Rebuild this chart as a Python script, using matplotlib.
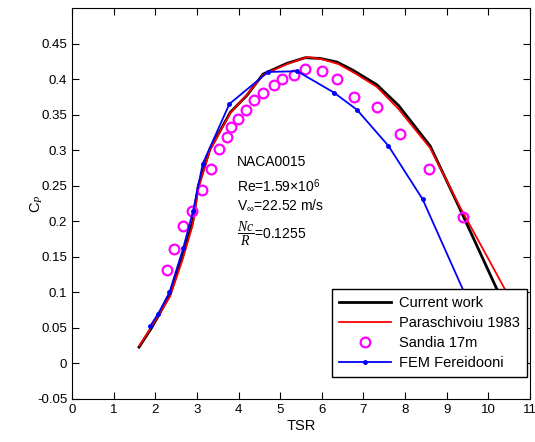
import numpy as np
import matplotlib.pyplot as plt
from matplotlib.ticker import FormatStrFormatter

plt.rcParams['font.family'] = ['Liberation Sans', 'DejaVu Sans']
plt.rcParams['mathtext.fontset'] = 'custom'
plt.rcParams['mathtext.rm'] = 'Liberation Sans'
plt.rcParams['mathtext.it'] = 'Liberation Serif:italic'

# Current work
cw_tsr = [1.61, 1.91, 2.35, 2.65, 2.9, 3.03, 3.31, 3.80, 4.2, 4.59, 5.16, 5.60, 5.96,
          6.36, 6.76, 7.32, 7.84, 8.60, 9.28, 10.2, 10.36]
cw_cp = [0.023, 0.05, 0.096, 0.15, 0.2, 0.249, 0.301, 0.353, 0.377, 0.407, 0.422, 0.430,
         0.429, 0.424, 0.412, 0.392, 0.363, 0.306, 0.222, 0.105, 0.084]

# Paraschivoiu 1983
pa_tsr = [1.62, 1.91, 2.35, 2.65, 2.9, 3.03, 3.31, 3.80, 4.2, 4.59, 5.16, 5.65, 6.0,
          6.4, 6.8, 7.32, 7.84, 8.60, 9.3, 10.0, 10.40]
pa_cp = [0.025, 0.052, 0.094, 0.145, 0.195, 0.245, 0.3, 0.352, 0.378, 0.406, 0.421, 0.431,
         0.428, 0.421, 0.408, 0.389, 0.358, 0.303, 0.222, 0.147, 0.104]

# Sandia 17m
sa_tsr = [2.27, 2.45, 2.67, 2.89, 3.11, 3.33, 3.54, 3.73, 3.83, 3.99, 4.18, 4.38, 4.58,
          4.84, 5.04, 5.34, 5.60, 6.0, 6.37, 6.77, 7.32, 7.88, 8.57, 9.38, 10.38]
sa_cp = [0.131, 0.161, 0.193, 0.215, 0.244, 0.274, 0.301, 0.319, 0.333, 0.344, 0.356,
         0.370, 0.380, 0.391, 0.400, 0.406, 0.414, 0.412, 0.400, 0.375, 0.360, 0.323,
         0.273, 0.206, 0.084]

# FEM Fereidooni
fe_tsr = [1.87, 2.07, 2.34, 2.67, 2.91, 3.14, 3.78, 4.71, 5.41, 6.29, 6.84, 7.60, 8.42, 9.8]
fe_cp = [0.052, 0.070, 0.100, 0.162, 0.215, 0.281, 0.365, 0.410, 0.411, 0.381, 0.357,
         0.306, 0.231, 0.05]

fig = plt.figure(figsize=(5.35, 4.42), dpi=100)
ax = fig.add_axes([0.1346, 0.0973, 0.8561, 0.8847])

ax.plot(cw_tsr, cw_cp, color='black', lw=2, label='Current work')
ax.plot(pa_tsr, pa_cp, color='red', lw=1.3, label='Paraschivoiu 1983')
ax.plot(sa_tsr, sa_cp, ls='none', marker='o', ms=7, mfc='none', mec='magenta', mew=1.6,
        label='Sandia 17m')
ax.plot(fe_tsr, fe_cp, color='blue', lw=1.3, marker='.', ms=5, label='FEM Fereidooni')

ax.set_xlim(0, 11)
ax.set_ylim(-0.05, 0.5)
ax.set_xticks(np.arange(0, 12, 1))
ax.set_yticks(np.arange(-0.05, 0.46, 0.05))
ax.yaxis.set_major_formatter(FormatStrFormatter('%g'))
ax.tick_params(direction='in', top=True, right=True, labelsize=9.5, length=5)
ax.set_xlabel('TSR', fontsize=10.5, labelpad=2)
ax.set_ylabel('C$_P$', fontsize=10.5)
ax.yaxis.set_label_coords(-0.06, 0.5)

ax.text(3.96, 0.283, 'NACA0015', fontsize=10, va='center')
ax.text(3.96, 0.249, r'Re=1.59$\times$10$^6$', fontsize=10, va='center')
ax.text(3.96, 0.222, r'V$_\infty$=22.52 m/s', fontsize=10, va='center')
ax.text(3.96, 0.183, r'$\dfrac{Nc}{R}$=0.1255', fontsize=10, va='center')

leg = ax.legend(loc='lower right', bbox_to_anchor=(0.993, 0.056), fancybox=False,
                edgecolor='black', framealpha=1, fontsize=10.5, borderaxespad=0,
                handlelength=3.6, handletextpad=0.5, labelspacing=0.4, borderpad=0.5)
leg.get_frame().set_linewidth(1)

fig.savefig('out.png', dpi=100)
